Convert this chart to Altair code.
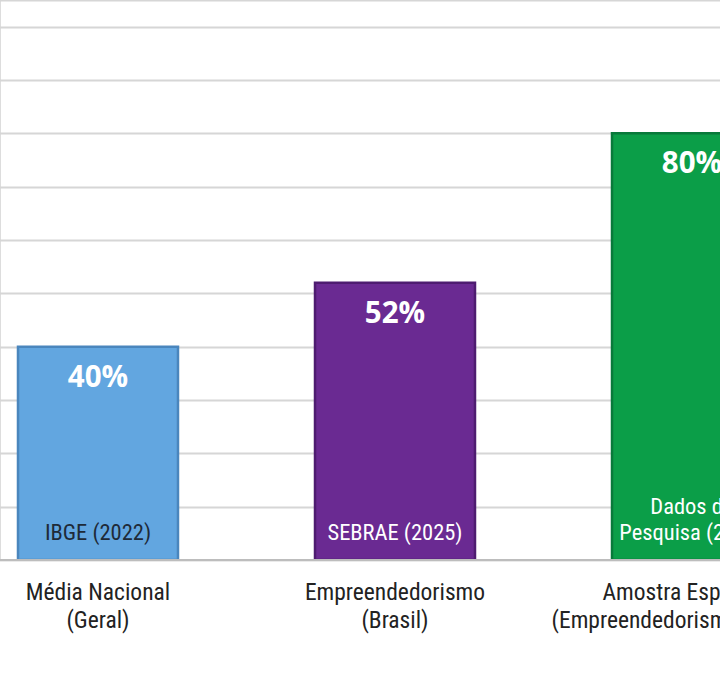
import altair as alt
import pandas as pd

categories = ["Média Nacional\n(Geral)", "Empreendedorismo\n(Brasil)", "Amostra Específica\n(Empreendedorismo Regional)"]
values = [40, 52, 80]
source_top = ["", "", "Dados da"]
source_bottom = ["IBGE (2022)", "SEBRAE (2025)", "Pesquisa (2025)"]
colors = ["#62a6e0", "#6a2a92", "#0b9e48"]
edge_colors = ["#4a86bd", "#4e1c70", "#08793a"]
source_colors = ["#1e2a38", "#ffffff", "#ffffff"]
grid_values = [0, 10, 20, 30, 40, 50, 60, 70, 80, 90, 100, 105]

df = pd.DataFrame({
    "cat": categories,
    "value": values,
    "stop": source_top,
    "sbot": source_bottom,
    "color": colors,
    "edge": edge_colors,
    "scolor": source_colors,
    "label": [f"{v}%" for v in values],
})

NARROW = "Roboto Condensed, Liberation Sans Narrow, Roboto, sans-serif"

x = alt.X("cat:N", sort=categories,
          scale=alt.Scale(range=[-50.5, 840.5], paddingInner=0.4613, paddingOuter=0.2306),
          axis=alt.Axis(title=None, labelAngle=0, ticks=False, domain=False,
                        labelExpr="split(datum.label, '\\n')",
                        labelFont=NARROW, labelFontSize=23.5, labelLimit=0,
                        labelColor="#222222", labelPadding=20, labelLineHeight=28,
                        labelOverlap=False, labelBound=False))
y_scale = alt.Scale(domain=[0, 105], nice=False)
xs = alt.X("cat:N", sort=categories)

bars = alt.Chart(df).mark_bar(clip=True, strokeWidth=2.5).encode(
    x=x,
    y=alt.Y("value:Q", scale=y_scale,
            axis=alt.Axis(title=None, labels=False, ticks=False, domain=False,
                          values=grid_values, gridColor="#d6d6d6", gridWidth=2)),
    fill=alt.Color("color:N", scale=None),
    stroke=alt.Color("edge:N", scale=None),
)

pct = alt.Chart(df).mark_text(clip=True, baseline="top", dy=17, fontSize=29.5,
                              fontWeight="bold", font="Open Sans", color="white").encode(
    x=xs, y=alt.Y("value:Q", scale=y_scale), text="label:N")

src_bot = alt.Chart(df).mark_text(clip=True, baseline="bottom", dy=-15, fontSize=22.5,
                                  font=NARROW).encode(
    x=xs, y=alt.datum(0), text="sbot:N", color=alt.Color("scolor:N", scale=None))

src_top = alt.Chart(df).mark_text(clip=True, baseline="bottom", dy=-41, fontSize=22.5,
                                  font=NARROW).encode(
    x=xs, y=alt.datum(0), text="stop:N", color=alt.Color("scolor:N", scale=None))

base = alt.Chart(df).mark_rule(color="#bdbdbd", strokeWidth=2).encode(y=alt.datum(0))

chart = alt.layer(bars, pct, src_bot, src_top, base).properties(
    width=720, height=560,
    autosize=alt.AutoSizeParams(type="none"),
    padding={"left": 0, "top": 0, "right": 0, "bottom": 115},
).configure_view(stroke=None).configure(background="white")

chart.save("out.html", embed_options={"renderer": "svg", "actions": False})
